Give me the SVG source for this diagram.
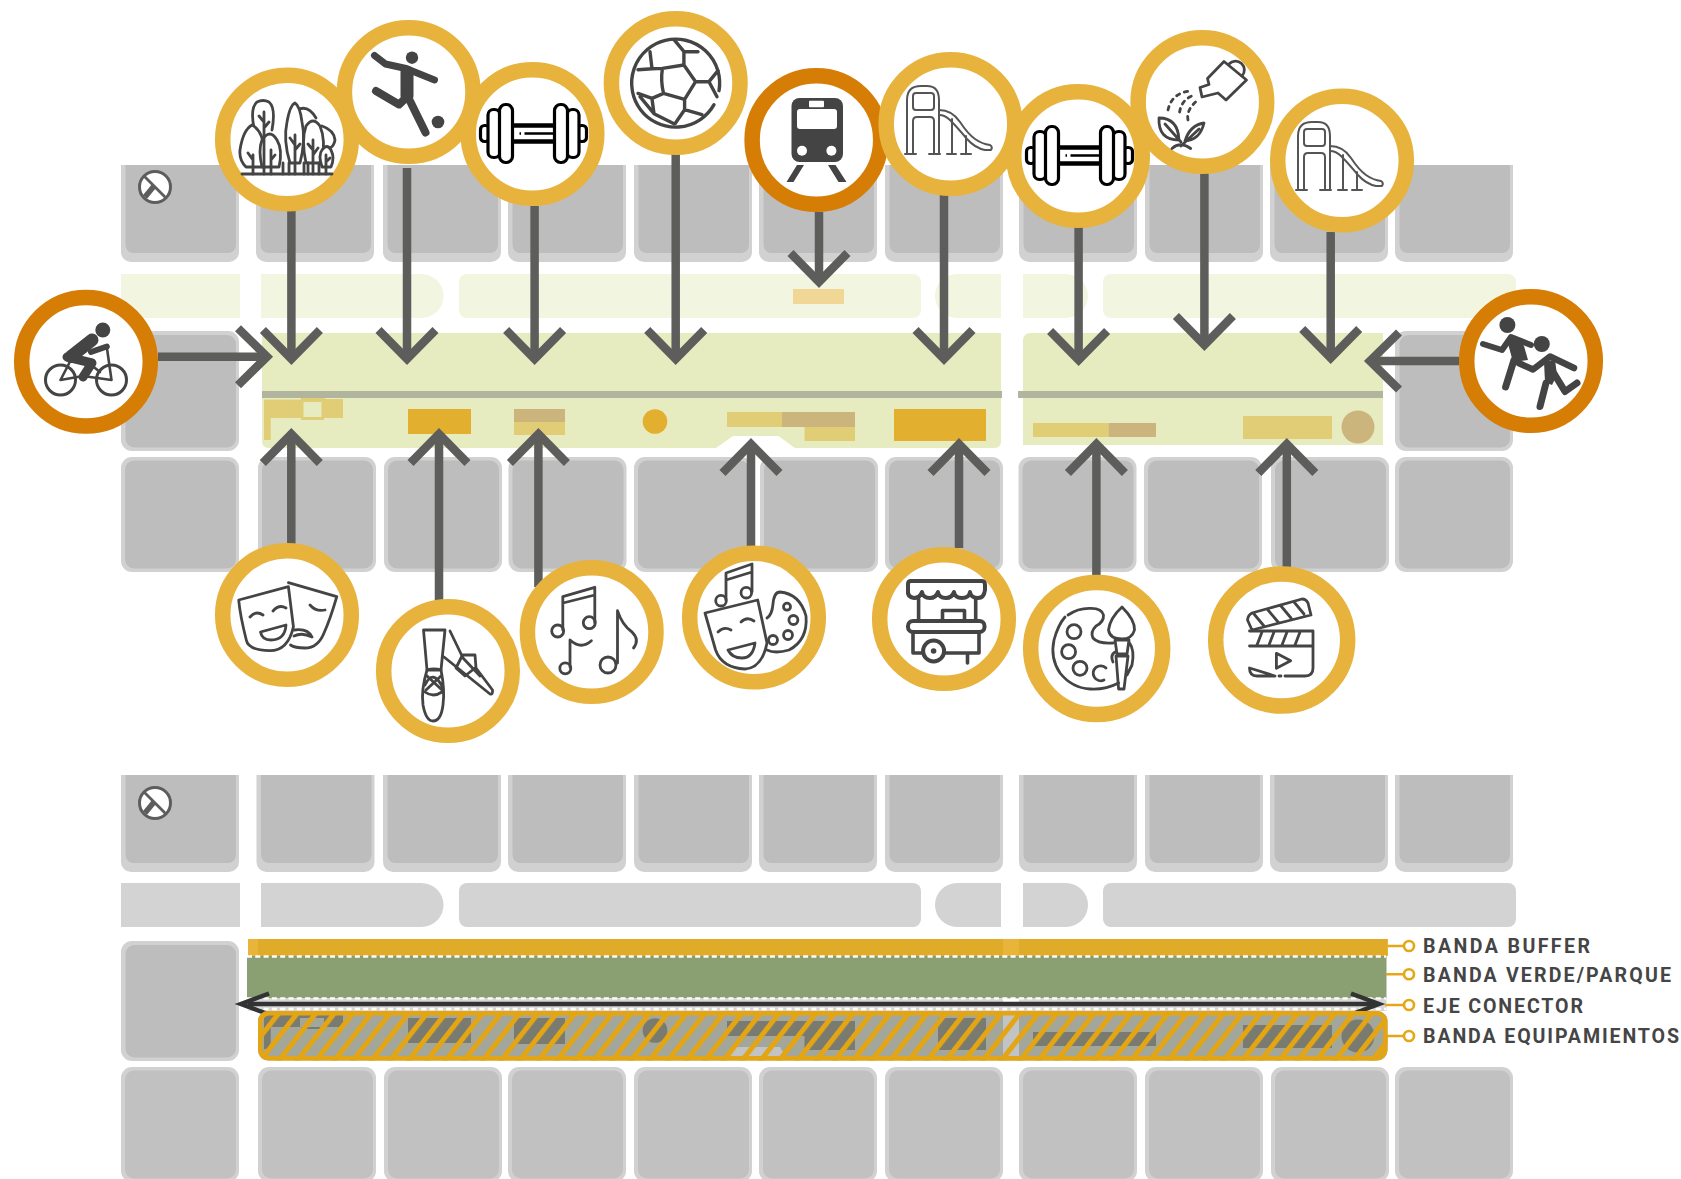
<svg xmlns="http://www.w3.org/2000/svg" xmlns:xlink="http://www.w3.org/1999/xlink" width="1681" height="1179" viewBox="0 0 1681 1179">
<style>
.bo{fill:#d1d1d1}.bi{fill:#bdbdbd}.bl{fill:#c1c1c1}
.ring{fill:#fff;stroke:#e8b33d;stroke-width:15.500}
.ring2{fill:#fff;stroke:#d67d06;stroke-width:15.500}
.c{fill:none;stroke:#5d5d5b;stroke-width:8.5;marker-end:url(#h)}
.ic{fill:none;stroke:#444;stroke-width:2.8;stroke-linecap:round;stroke-linejoin:round}
.iw{fill:#fff;stroke:#444;stroke-width:2.8;stroke-linecap:round;stroke-linejoin:round}
.ib{fill:#fff;stroke:#000;stroke-width:3.2;stroke-linejoin:round}
.it{fill:none;stroke:#444;stroke-linecap:round;stroke-linejoin:round}
.sl{fill:none;stroke:#555;stroke-width:2;stroke-linecap:round;stroke-linejoin:round}
.f{fill:#444}
.y{fill:#e2cd77}.o{fill:#e2b02e}.t{fill:#ccb47d}
.d{fill:#7a7b70}
.dash{fill:none;stroke:#fff;stroke-width:2.3;stroke-dasharray:5 3.300}
.lead{fill:none;stroke:#e5a715;stroke-width:2.5}
.dot{fill:#fff;stroke:#e5a715;stroke-width:2.6}
.lb{font-family:Roboto,"Liberation Sans",sans-serif;font-weight:700;font-size:19.6px;fill:#454545}
</style>
<defs>
<marker id="h" markerUnits="userSpaceOnUse" markerWidth="60" markerHeight="80" viewBox="-40 -40 60 80" refX="0" refY="0" orient="auto">
<path d="M-29,-28.5L0,0L-29,28.5" fill="none" stroke="#5d5d5b" stroke-width="8.5"/>
</marker>
<g id="tb"><path class="bo" d="M0,0H118V87a10 10 0 0 1 -10 10H10a10 10 0 0 1 -10 -10Z"/><path class="bi" d="M4.5,0H115V80a8 8 0 0 1 -8 8H12.500a8 8 0 0 1 -8 -8Z"/></g>
<g id="mb"><rect class="bo" width="118" height="115" rx="11"/><rect class="bi" x="4" y="3.500" width="111" height="108" rx="9"/></g>
<g id="ml"><rect class="bo" width="118" height="115" rx="11"/><rect class="bl" x="4" y="3.500" width="111" height="108" rx="9"/></g>
<g id="sb"><rect class="bo" width="118" height="120" rx="11"/><rect class="bi" x="4.500" y="4" width="110.500" height="112.500" rx="9"/></g>
<g id="lanes">
<path d="M121,274H240V318H121Z"/>
<path d="M261,274H421.500a22 22 0 0 1 0 44H261Z"/>
<rect x="459" y="274" width="462" height="44" rx="8"/>
<path d="M1001,274V318H957a22 22 0 0 1 0 -44Z"/>
<path d="M1023,274H1066a22 22 0 0 1 0 44H1023Z"/>
<rect x="1103" y="274" width="413" height="44" rx="8"/>
</g>
<g id="compass">
<circle r="15.500" fill="#fff" stroke="#5d5d5d" stroke-width="3"/>
<path d="M-11,-11L11,11" fill="none" stroke="#5d5d5d" stroke-width="2.800"/>
<path d="M-1,-1L-10,10" fill="none" stroke="#5d5d5d" stroke-width="5.500"/>
</g>
<g id="db">
<rect class="ib" x="-53" y="-8" width="9" height="16" rx="4"/>
<rect class="ib" x="44" y="-8" width="9" height="16" rx="4"/>
<rect class="ib" x="-45.500" y="-24" width="12" height="48" rx="5.500"/>
<rect class="ib" x="33.500" y="-24" width="12" height="48" rx="5.500"/>
<rect class="ib" x="-34" y="-29" width="13" height="58" rx="6"/>
<rect class="ib" x="21" y="-29" width="13" height="58" rx="6"/>
<path d="M-21,-8H21M-21,8H21" fill="none" stroke="#000" stroke-width="4.500"/>
<path d="M-9,0H21M-14,0h1.500" fill="none" stroke="#000" stroke-width="2.400"/>
</g>
<g id="slide">
<path class="sl" d="M2,67V14Q2,0 16,0H22Q34,0 34,14V67"/>
<rect class="sl" x="8" y="7" width="21" height="17" rx="3"/>
<path class="sl" d="M8,67V35Q8,31 12,31H25Q29,31 29,35V67"/>
<path class="sl" d="M0,68H11M24,68H35M42,68H51M56,68H66"/>
<path class="sl" d="M34,24Q47,24 55,36Q63,48 70,53Q77,58 85,59Q88,61 86,64H80Q70,62 62,53Q52,41 45,34Q40,29 34,29"/>
<path class="sl" d="M47,33V67M61,50V67"/>
</g>
<clipPath id="eq"><rect x="258" y="1011" width="1129.500" height="49.500" rx="10"/></clipPath>
<pattern id="ha" patternUnits="userSpaceOnUse" width="14.600" height="14.600" patternTransform="rotate(38) translate(8.800 0)">
<rect width="5" height="14.600" fill="#e3a513"/>
</pattern>
</defs>
<rect width="1681" height="1179" fill="#fff"/>

<g id="grid-top">
<use href="#tb" x="121" y="165"/><use href="#tb" x="256" y="165"/><use href="#tb" x="383" y="165"/><use href="#tb" x="508" y="165"/><use href="#tb" x="634" y="165"/><use href="#tb" x="759" y="165"/><use href="#tb" x="885" y="165"/><use href="#tb" x="1019" y="165"/><use href="#tb" x="1145" y="165"/><use href="#tb" x="1270" y="165"/><use href="#tb" x="1395" y="165"/>
<use href="#sb" x="121" y="331"/><use href="#sb" x="1395" y="331"/>
<use href="#mb" x="121" y="457"/><use href="#mb" x="258" y="457"/><use href="#mb" x="384" y="457"/><use href="#mb" x="508.500" y="457"/><use href="#mb" x="634" y="457"/><use href="#mb" x="760" y="457"/><use href="#mb" x="885" y="457"/><use href="#mb" x="1018.500" y="457"/><use href="#mb" x="1144" y="457"/><use href="#mb" x="1271" y="457"/><use href="#mb" x="1395" y="457"/>
<use href="#lanes" fill="#f2f5e0"/>
<use href="#compass" x="155" y="187"/>
</g>

<g id="park-top">
<path d="M262,333H1001V442a6 6 0 0 1 -6 6H795L778.500,436H733L716,448H268a6 6 0 0 1 -6 -6Z" fill="#e6ecc0"/>
<path d="M1030,333H1383V445H1023V340a7 7 0 0 1 7 -7Z" fill="#e6ecc0"/>
<rect x="262" y="391" width="740" height="7" fill="#b2b59e"/>
<rect x="1018" y="391" width="365" height="7" fill="#b2b59e"/>
<path class="y" d="M264,399.500H301V398H325V399H343V418H324V420H301V418H270.700V440H264Z"/>
<rect x="303.500" y="402" width="18" height="15" fill="#e6ecc0"/>
<rect class="o" x="408" y="409" width="63" height="25"/>
<rect class="t" x="514" y="409" width="51" height="13"/><rect class="y" x="514" y="422" width="51" height="13"/>
<circle class="o" cx="655" cy="421.500" r="12.300"/>
<rect class="y" x="727" y="412" width="55" height="15"/><rect class="t" x="782" y="412" width="73" height="15"/><rect class="y" x="804.500" y="427" width="50.500" height="14"/>
<rect class="o" x="894" y="409" width="92" height="32"/>
<rect class="y" x="1033" y="423" width="75.500" height="14"/><rect class="t" x="1108.500" y="423" width="47.500" height="14"/>
<rect class="y" x="1243" y="416" width="89" height="23"/>
<circle class="t" cx="1358" cy="427" r="16.500"/>
<rect x="793" y="289" width="51" height="15" fill="#f0d795"/>
</g>

<g id="grid-bottom">
<use href="#tb" x="121" y="775"/><use href="#tb" x="256.500" y="775"/><use href="#tb" x="383" y="775"/><use href="#tb" x="508" y="775"/><use href="#tb" x="634" y="775"/><use href="#tb" x="759" y="775"/><use href="#tb" x="885" y="775"/><use href="#tb" x="1019" y="775"/><use href="#tb" x="1145" y="775"/><use href="#tb" x="1270" y="775"/><use href="#tb" x="1395" y="775"/>
<use href="#sb" x="121" y="941"/>
<use href="#ml" x="121" y="1067" /><use href="#ml" x="258" y="1067"/><use href="#ml" x="384" y="1067"/><use href="#ml" x="508" y="1067"/><use href="#ml" x="634" y="1067"/><use href="#ml" x="759" y="1067"/><use href="#ml" x="885" y="1067"/><use href="#ml" x="1019" y="1067"/><use href="#ml" x="1145" y="1067"/><use href="#ml" x="1271" y="1067"/><use href="#ml" x="1395" y="1067"/>
<use href="#lanes" y="609" fill="#d3d3d3"/>
<use href="#compass" x="155" y="803"/>
</g>

<g id="bands">
<rect x="248" y="939" width="1140" height="17" fill="#e8b53a"/>
<rect x="258" y="939" width="745" height="17" fill="#dfab28"/>
<rect x="1019" y="939" width="368" height="17" fill="#dfab28"/>
<rect x="247" y="956" width="1139.500" height="42" fill="#8a9f72"/>
<rect x="248" y="998" width="1138.500" height="13" fill="#d6d6d6"/>
<path class="dash" d="M247,956.500H1386M247,998.300H1386M247,1009H1386"/>
<rect x="1003" y="999" width="16" height="4" fill="#fff"/>
<line x1="248" y1="1004" x2="1378" y2="1004" stroke="#333" stroke-width="4.500"/>
<path d="M269,993.500L241,1004L269,1014.500" fill="none" stroke="#333" stroke-width="4.500"/>
<path d="M1351,993.500L1379,1004L1351,1014.500" fill="none" stroke="#333" stroke-width="4.500"/>
<g clip-path="url(#eq)">
<rect x="258" y="1011" width="1130" height="50" fill="#a3a69a"/>
<rect x="1003" y="1011" width="16" height="50" fill="#c2c3c4"/>
<path d="M729,1057L736,1047H780L786,1057Z" fill="#c2c3c4"/>
<path class="d" d="M264,1008.500H343V1027H324V1029H301V1027H270.700V1049H264Z"/>
<rect x="300" y="1018" width="24" height="9" fill="#a3a69a"/>
<rect class="d" x="408" y="1018" width="63" height="25"/>
<rect class="d" x="514" y="1018" width="51" height="26"/>
<circle class="d" cx="655" cy="1030.500" r="12.300"/>
<rect class="d" x="727" y="1021" width="128" height="15"/><rect class="d" x="804.500" y="1036" width="50.500" height="14"/>
<rect class="d" x="938" y="1018" width="48" height="32"/>
<rect class="d" x="1033" y="1032" width="123" height="14"/>
<rect class="d" x="1243" y="1025" width="89" height="23"/>
<circle class="d" cx="1358" cy="1036" r="16.500"/>
<rect x="258" y="1011" width="1130" height="50" fill="url(#ha)"/>
</g>
<rect x="260.300" y="1013.300" width="1125" height="45" rx="9" fill="none" stroke="#e3a513" stroke-width="4.500"/>
</g>

<g id="connectors">
<path class="c" d="M291.400,211V359"/>
<path class="c" d="M407,168V359"/>
<path class="c" d="M534.600,206V359"/>
<path class="c" d="M675.700,154V359"/>
<path class="c" d="M819,212V282"/>
<path class="c" d="M944,195V359"/>
<path class="c" d="M1078.600,227V360"/>
<path class="c" d="M1204.400,173V345"/>
<path class="c" d="M1330.700,232V358"/>
<path class="c" d="M158,356.700H267"/>
<path class="c" d="M1459,361H1370"/>
<path class="c" d="M291.300,545V434"/>
<path class="c" d="M439,600V434"/>
<path class="c" d="M538.400,587V434"/>
<path class="c" d="M751,546V444"/>
<path class="c" d="M959,548V444"/>
<path class="c" d="M1096.400,575V444"/>
<path class="c" d="M1286.800,567V444"/>
<path class="lead" d="M1388,946H1409M1386,974.300H1409M1385,1005H1409M1387,1036H1409"/>
</g>

<g id="node-tree">
<circle class="ring" cx="287" cy="139.500" r="64.300"/>
<path class="ic" d="M242,174H332"/>
<path class="iw" d="M254,128Q250,108 257,102Q263,99 269,102Q276,108 272,130"/>
<path class="iw" d="M297,110Q308,104 316,118"/>
<path class="iw" d="M322,126Q334,130 335,140Q334,146 330,148"/>
<path class="iw" d="M262,167H246Q239,160 240,150Q243,130 252,125Q262,130 265,150"/>
<path class="iw" d="M262,167Q258,150 262,140Q270,128 277,140Q283,150 279,167Z"/>
<path class="iw" d="M290,163Q283,140 287,122Q290,105 295,103Q300,106 302,122Q306,140 300,163Z"/>
<path class="iw" d="M306,163Q301,140 306,126Q313,116 320,126Q326,140 322,163Z"/>
<path class="iw" d="M322,167Q318,155 322,150Q327,143 331,150Q335,158 331,167Z"/>
<path class="ic" d="M264,174V112M264,122L259,116M264,128L269,122M253,174V155M253,160L248,153M271,174V150M271,160L275,155M295,174V135M295,145L290,138M295,150L300,144M313,174V140M313,150L308,144M313,155L318,148M326,174V155M326,162L330,158M283,174V163M289,174V163M304,174V163M308,174V163M319,174V163"/>
</g>
<g id="node-player">
<circle class="ring" cx="408.700" cy="92" r="64.300"/>
<circle class="f" cx="412" cy="57.700" r="6.200"/>
<circle class="f" cx="438" cy="122" r="6.300"/>
<path class="it" stroke-width="7" d="M374.500,55.500L385.500,64L406,68.500L434.500,80"/>
<path class="it" stroke-width="13" d="M407,72V96"/>
<path class="it" stroke-width="8" d="M376,91L399,104.500L408,96"/>
<path class="it" stroke-width="8" d="M409,99L425.500,132.500"/>
</g>
<g id="node-dumbbell-1">
<circle class="ring" cx="532.500" cy="134" r="64.300"/>
<use href="#db" x="533.500" y="133.500"/>
</g>
<g id="node-ball">
<circle class="ring" cx="675.700" cy="83" r="64.300"/>
<g transform="translate(676 82.700)">
<path class="it" stroke-width="3.400" d="M38,22A44 44 0 1 1 43,8"/>
<path class="it" stroke-width="3.400" d="M-13.600,-14.300L7.900,-17.700L19.600,-1L8.600,16.700L-12.500,10.700Q-15.500,-2 -13.600,-14.300ZM7.900,-17.700V-31H22M8,-31L-2,-43M-26,-31L-24,-14L-13.600,-14.300M-24,-14L-38,-13M19.600,-1H33L42,-12M33,-1L41,14M-12.500,10.700L-24,15.700L-38,10.700M-24,16L-22,31L-36,14M-22,31L-2,41M8.600,17V27L26,32M8.600,27L-1,41"/>
</g>
</g>
<g id="node-train">
<circle class="ring2" cx="816.400" cy="140" r="64.300"/>
<rect class="f" x="791.500" y="98" width="51.500" height="64" rx="8"/>
<rect x="797" y="109" width="40" height="20" rx="3" fill="#fff"/>
<rect x="809" y="100.700" width="15" height="6.500" rx="1" fill="#fff"/>
<circle cx="802" cy="150.700" r="5" fill="#fff"/><circle cx="831.400" cy="150.700" r="5" fill="#fff"/>
<path class="f" d="M797,165L786.500,182H793.500L804,165ZM828,165L838.500,182H846.500L835.500,165Z"/>
</g>
<g id="node-slide-1">
<circle class="ring" cx="950.500" cy="124" r="64.300"/>
<use href="#slide" x="905" y="86"/>
</g>
<g id="node-dumbbell-2">
<circle class="ring" cx="1078" cy="156" r="64.300"/>
<use href="#db" x="1079.500" y="155.500"/>
</g>
<g id="node-water">
<circle class="ring" cx="1202.400" cy="102" r="64.300"/>
<path class="ic" stroke-width="3" d="M1207.500,78.500L1224,61.500L1246.500,80L1226,100L1218,93L1202,97L1200,87.500L1209,84.500Z"/>
<path class="ic" stroke-width="3" d="M1229,64A7.500 7.500 0 1 1 1242,76"/>
<path class="ic" stroke-width="3" stroke-dasharray="3.500 5" d="M1168,110Q1172,92 1192,91M1179.600,112Q1182,98 1195.500,95M1188,120Q1186,110 1197,100.700"/>
<path class="ic" stroke-width="3" d="M1159,118Q1178,118 1179,140Q1158,140 1159,118ZM1165,124L1181,142M1204,123Q1190,125 1185,141Q1200,140 1204,123ZM1199,129L1181,146M1172,148.500Q1180,141 1190.700,148.500"/>
</g>
<g id="node-slide-2">
<circle class="ring" cx="1342" cy="160.500" r="64.300"/>
<use href="#slide" x="1296" y="122"/>
</g>
<g id="node-cyclist">
<circle class="ring2" cx="86" cy="361.700" r="64.300"/>
<circle class="f" cx="102.800" cy="330" r="7.500"/>
<circle class="it" stroke-width="3" cx="60.500" cy="380" r="15"/>
<circle class="it" stroke-width="3" cx="111.500" cy="380" r="15"/>
<path class="it" stroke-width="2.600" d="M60.500,380L75,352M60.500,380L83,376L111.500,380L106.800,347M75,352L100,372"/>
<path class="it" stroke-width="13" d="M71,356.500L92,340"/>
<path class="it" stroke-width="6" d="M91,352L106.800,346.500"/>
<path class="it" stroke-width="9" d="M67,357L92,363L83,377"/>
</g>
<g id="node-runners">
<circle class="ring2" cx="1531" cy="361" r="64.300"/>
<circle class="f" cx="1507.400" cy="325" r="8"/>
<circle class="f" cx="1541.800" cy="344" r="8"/>
<path class="it" stroke-width="6" d="M1483,344L1502,350L1511,337L1531,345"/>
<path class="f" d="M1507,340L1518,338L1524,346L1528,360L1513,362Z"/>
<path class="it" stroke-width="7" d="M1514,360L1505.600,387"/>
<path class="it" stroke-width="6.500" d="M1518.500,363L1533,369.500L1550,356.500L1574,368"/>
<path class="f" d="M1544,362L1555,360L1557,375L1552,385L1545,382Z"/>
<path class="it" stroke-width="7" d="M1546,383L1540,406.500M1553.700,373L1565,391.500L1577,383"/>
</g>
<g id="node-masks">
<circle class="ring" cx="287" cy="615" r="64.300"/>
<path class="iw" stroke-width="3.200" d="M288.400,582.700L336.800,596.700Q330,620 324,633Q318,648 305,648Q295,648 290.500,645"/>
<path class="iw" stroke-width="3.200" d="M238.700,600L288.400,586.700Q290,600 293.400,626.700Q288,651 269.400,650.700Q248,650 246.300,640Q240,615 238.700,600Z"/>
<path class="ic" stroke-width="3.200" d="M250,617Q256,610 263,615M273,611Q279,604 286,608M260.500,632L286,625Q285,640 271,640Q262,640 260.500,632ZM310,605Q316,612 325,610M294,630Q308,628 312,637Q302,632 294,636"/>
</g>
<g id="node-ballet">
<circle class="ring" cx="448" cy="671" r="64.300"/>
<path class="ic" d="M423.500,630H445L441,670H427Z"/>
<path class="ic" d="M427,670Q421,690 423,705Q426,721 433,721Q441,721 443,705Q445,690 441,670Q434,668 427,670ZM425,685Q433,668 443,688M425,692Q433,698 442,692M426,675L442,690M442,675L426,690"/>
<path class="ic" d="M450,631L463,658L480,676M444,657L490,694Q493,695 492.500,690L476,668L475,655H462"/>
<path class="ic" d="M462,656L456,668L465,676L475,668"/>
</g>
<g id="node-music">
<circle class="ring" cx="591.700" cy="632" r="64.300"/>
<path class="ic" stroke-width="3.200" d="M562.800,630V596.700L594.800,587.300V622.700M563,603L594.800,595M570,667V640Q581,650 591.400,640.700M617.500,663V610.700Q622,625 632,632Q640,640 633.500,648"/>
<circle class="ic" stroke-width="3.200" cx="557.700" cy="631" r="6"/>
<circle class="ic" stroke-width="3.200" cx="589.300" cy="622.700" r="6"/>
<circle class="ic" stroke-width="3.200" cx="565.300" cy="668.300" r="5.500"/>
<circle class="ic" stroke-width="3.200" cx="608" cy="665" r="8"/>
</g>
<g id="node-masks-palette">
<circle class="ring" cx="754" cy="617.500" r="64.300"/>
<path class="ic" stroke-width="2.800" d="M726,600V573L752,564V591.700M726,580L752,572"/>
<circle class="ic" stroke-width="2.800" cx="721" cy="600.700" r="5.300"/>
<circle class="ic" stroke-width="2.800" cx="746.300" cy="592.700" r="5.300"/>
<path class="ic" stroke-width="2.800" d="M767,618Q772,615 773,604Q774,592 780,592Q800,594 806,616Q808,640 789,650Q775,654 767,650"/>
<circle class="ic" stroke-width="2.800" cx="787" cy="606.700" r="3.500"/><circle class="ic" stroke-width="2.800" cx="793.400" cy="620" r="4.500"/><circle class="ic" stroke-width="2.800" cx="788" cy="635" r="4.500"/><circle class="ic" stroke-width="2.800" cx="773" cy="640" r="4.500"/>
<path class="iw" stroke-width="3.200" d="M705,613L757.700,600L767,643Q762,668 745,669Q722,668 715.600,650Z"/>
<path class="ic" stroke-width="3.200" d="M718,632Q724,626 731,630M741,622Q747,616 754,621M728,650L755,643Q753,658 742,658Q732,658 728,650Z"/>
</g>
<g id="node-cart">
<circle class="ring" cx="944" cy="619" r="64.300"/>
<path class="it" stroke-width="4" d="M910,581H982Q985,581 985,585V590Q984,598 978,598Q971,598 970,592Q969,598 962,598Q955,598 954,592Q952,598 946,598Q939,598 938,592Q936,598 930,598Q923,598 922,592Q920,598 914,598Q907,597 908,590V584Q908,581 911,581Z"/>
<path class="it" stroke-width="3.600" d="M918.600,599V620M975.700,599V620M942.500,620V610.500H964.500V620"/>
<rect class="it" stroke-width="4" x="908" y="621" width="76.500" height="11" rx="5"/>
<path class="it" stroke-width="3.600" d="M913,633V653H923M945,653H979V633M967.500,653V663"/>
<circle class="it" stroke-width="4" cx="933.600" cy="651" r="10.500"/>
<circle class="f" cx="933.600" cy="651" r="2.800"/>
</g>
<g id="node-palette">
<circle class="ring" cx="1096.700" cy="648.500" r="66"/>
<path class="ic" stroke-width="2.800" d="M1068,615Q1078,608 1090,608.300Q1102,608 1103.500,615Q1104,622 1096,626Q1090,632 1093,638Q1098,644 1113,643M1118.600,683Q1105,690 1090,689Q1072,688 1060,673Q1050,658 1054,640Q1058,625 1065,617"/>
<circle class="ic" stroke-width="2.800" cx="1074" cy="631.700" r="7"/><circle class="ic" stroke-width="2.800" cx="1068.600" cy="651.700" r="7"/><circle class="ic" stroke-width="2.800" cx="1080" cy="668.300" r="7"/>
<path class="ic" stroke-width="2.800" d="M1104,680A7.500 7.500 0 1 1 1106,668"/>
<path class="ic" stroke-width="2.800" d="M1122,607Q1135,620 1134.500,630Q1132,639 1122,639Q1110,639 1108.500,630Q1110,618 1122,607ZM1115,640H1129L1127,654H1117ZM1116,656H1128L1124,689H1118.600ZM1129,642Q1135,650 1132,665L1127,675M1115,652Q1110,655 1113,662"/>
</g>
<g id="node-clap">
<circle class="ring" cx="1281.700" cy="640" r="66"/>
<path class="ic" stroke-width="2.800" d="M1252,630L1247.500,620Q1248,615 1252,613L1302,599Q1306,599 1308,603L1311,615ZM1254,614L1264,626M1268,610L1278,622M1281,606L1291,618M1294,602L1304,614"/>
<path class="ic" stroke-width="2.800" d="M1249.500,631H1313V668Q1313,676 1305,676H1285M1281,676H1279M1275,676H1257Q1249.500,676 1249.500,668ZM1249.500,646H1313M1262,632L1257,645M1274,632L1269,645M1287,632L1282,645M1300,632L1295,645"/>
<path class="ic" stroke-width="2.800" d="M1276.400,653.300L1290.700,660.700L1276.400,668.300Z"/>
</g>

<g id="legend">
<circle class="dot" cx="1409" cy="946" r="5"/>
<circle class="dot" cx="1409" cy="974.300" r="5"/>
<circle class="dot" cx="1409" cy="1005" r="5"/>
<circle class="dot" cx="1409" cy="1036" r="5"/>
<text class="lb" x="1423" y="953" textLength="167" lengthAdjust="spacing">BANDA BUFFER</text>
<text class="lb" x="1423" y="982" textLength="248" lengthAdjust="spacing">BANDA VERDE/PARQUE</text>
<text class="lb" x="1423" y="1013" textLength="160" lengthAdjust="spacing">EJE CONECTOR</text>
<text class="lb" x="1423" y="1043" textLength="256" lengthAdjust="spacing">BANDA EQUIPAMIENTOS</text>
</g>
</svg>
